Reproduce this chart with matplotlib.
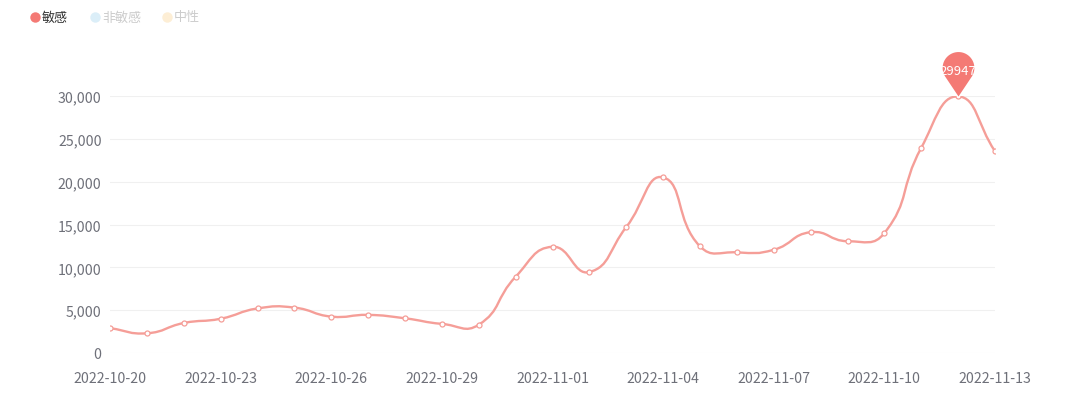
import numpy as np
import pandas as pd
import matplotlib
matplotlib.use('Agg')
import matplotlib.pyplot as plt
import matplotlib.dates as mdates
from matplotlib.path import Path
from matplotlib.patches import PathPatch
from matplotlib.lines import Line2D
from matplotlib.ticker import FuncFormatter

plt.rcParams['font.family'] = ['Noto Sans CJK SC', 'DejaVu Sans']

# ---------------- 数据 ----------------
dates = pd.date_range('2022-10-20', '2022-11-13', freq='D')
sensitive = [2900, 2300, 3500, 4000, 5200, 5300, 4250, 4450, 4050, 3400,
             3300, 8900, 12400, 9450, 14700, 20500, 12450, 11750, 12050, 14100,
             13050, 14000, 23950, 29947, 23550]
legend_names = ['敏感', '非敏感', '中性']
legend_colors = ['#f47a75', '#dbeef8', '#fdeed5']
tick_dates = dates[::3]
yticks = [0, 5000, 10000, 15000, 20000, 25000, 30000]

line_color = '#f59e98'
grey = '#6e7079'

fig = plt.figure(figsize=(10.8, 4.02), dpi=100)
ax = fig.add_axes([110 / 1080, 48 / 402, 885 / 1080, 257 / 402])

xs = mdates.date2num(dates.to_pydatetime())
ys = np.array(sensitive, dtype=float)

# 平滑曲线 (类似 echarts smooth 的贝塞尔控制点)
px = 36.875 / (xs[1] - xs[0])
py = 257 / 30000
pts = np.column_stack([xs, ys])
n = len(pts)
verts = [pts[0]]
codes = [Path.MOVETO]
cps = []
for i in range(n):
    prev = pts[max(i - 1, 0)]
    nxt = pts[min(i + 1, n - 1)]
    v = (nxt - prev) * 0.5
    lp = np.hypot((pts[i][0] - prev[0]) * px, (pts[i][1] - prev[1]) * py)
    ln = np.hypot((nxt[0] - pts[i][0]) * px, (nxt[1] - pts[i][1]) * py)
    tot = lp + ln if lp + ln > 0 else 1
    c_in = pts[i] - v * lp / tot
    c_out = pts[i] + v * ln / tot
    cps.append((c_in, c_out))
for i in range(n - 1):
    verts += [cps[i][1], cps[i + 1][0], pts[i + 1]]
    codes += [Path.CURVE4] * 3
ax.add_patch(PathPatch(Path(verts, codes), fill=False, edgecolor=line_color,
                       lw=1.7, zorder=3))
ax.plot(xs, ys, 'o', ms=3.6, mfc='white', mec=line_color, mew=0.9, zorder=4)

# 最大值标记 (pin)
r, c = 1.0, 1.8
beta = np.arccos(r / c)
th = np.linspace(-np.pi / 2 + beta, 3 * np.pi / 2 - beta, 60)
pin_v = np.column_stack([r * np.cos(th), c + r * np.sin(th)])
pin_v = np.vstack([[0, 0], pin_v, [0, 0]])
pin = Path(pin_v)
imax = int(np.argmax(ys))
ax.plot(xs[imax], ys[imax], marker=pin, ms=64, color='#f47a75', mew=0,
        zorder=5, clip_on=False)
ax.annotate(str(int(ys[imax])), (xs[imax], ys[imax]), xytext=(0, 19),
            textcoords='offset points', ha='center', va='center',
            color='white', fontsize=9.5, zorder=6, annotation_clip=False)

ax.set_xlim(xs[0], xs[-1])
ax.set_ylim(0, 30000)
ax.set_xticks(mdates.date2num(tick_dates.to_pydatetime()))
ax.set_xticklabels([d.strftime('%Y-%m-%d') for d in tick_dates])
ax.set_yticks(yticks)
ax.yaxis.set_major_formatter(FuncFormatter(lambda v, p: f'{int(v):,}'))
ax.tick_params(axis='both', length=0, labelsize=10.2, colors=grey)
ax.tick_params(axis='x', pad=13)
ax.tick_params(axis='y', pad=6)
ax.grid(axis='y', color='#f0f0f0', lw=0.8)
ax.set_axisbelow(True)
for s in ax.spines.values():
    s.set_visible(False)

# 图例
lx = [35, 95, 167]
ly = 1 - 18 / 402
for i, (name, col, x0) in enumerate(zip(legend_names, legend_colors, lx)):
    fig.add_artist(Line2D([x0 / 1080], [ly], marker='o', ms=7.5, color=col,
                          mew=0, transform=fig.transFigure))
    fig.text((x0 + 7) / 1080, ly, name,
             color='#333333' if i == 0 else '#cccccc', fontsize=9.4,
             ha='left', va='center')

fig.savefig('out.png', dpi=100)
